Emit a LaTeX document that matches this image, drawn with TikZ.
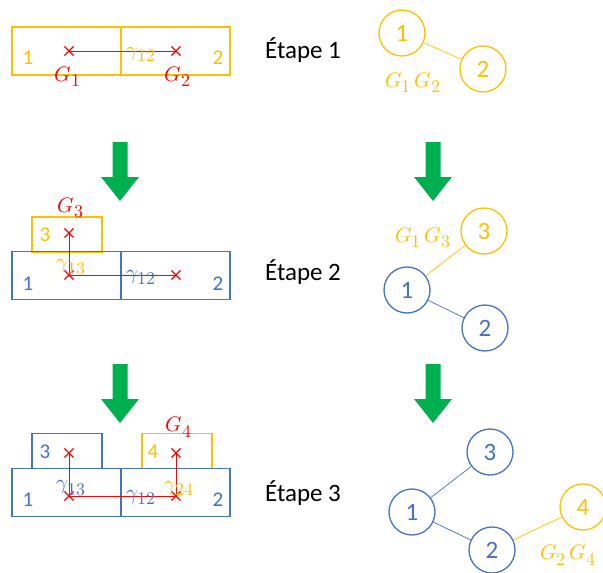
\documentclass[tikz,border=0pt]{standalone}
\usepackage{fontspec}
\usepackage{unicode-math}
\setmainfont{Carlito}
\setmathfont{Latin Modern Math}
\DeclareMathSizes{21}{21}{18}{14}
\usetikzlibrary{shapes.misc,positioning}
\definecolor{gold}{RGB}{255,192,0}
\definecolor{steelblue}{RGB}{68,114,196}
\definecolor{brightred}{RGB}{255,0,0}
\definecolor{arrowgreen}{RGB}{0,176,80}

\begin{document}
\begin{tikzpicture}[
    x=1pt, y=-1pt,
    cell/.style={rectangle, draw, line width=1.3pt, minimum width=109pt, minimum height=48pt, inner sep=0pt},
    subbox/.style={rectangle, draw, line width=1.3pt, minimum width=70pt, minimum height=35pt, inner sep=0pt},
    vertex/.style={circle, draw, line width=1.3pt, minimum size=46pt, inner sep=0pt, font=\fontsize{25}{28}\selectfont},
    num/.style={inner sep=0pt, font=\fontsize{21}{24}\selectfont},
    lab/.style={inner sep=0pt, font=\fontsize{21}{24}\selectfont},
    cg/.style={cross out, draw=brightred, line width=1.1pt, minimum size=8pt, inner sep=0pt},
    link/.style={brightred, line width=0.8pt},
    tie/.style={line width=0.7pt},
    etape/.style={font=\fontsize{25}{30}\selectfont}
]
    \useasboundingbox (0,0) rectangle (603,573);

    % Step 1
    \node[cell, draw=gold] (p1a) at (66.5,51) {};
    \node[cell, draw=gold] (p1b) at (175.5,51) {};
    \node[num, text=gold] (n1a) at (28,58) {1};
    \node[num, text=gold] (n1b) at (218,58) {2};
    \node[cg] (c11) at (69,51) {};
    \node[cg] (c12) at (176,51) {};
    \draw[link] (c11.center) -- (c12.center);
    \node[lab, text=gold] (g112) at (141,54) {$\gamma_{12}$};
    \node[lab, text=brightred] (gc11) at (68,77) {$G_1$};
    \node[lab, text=brightred] (gc12) at (178,77) {$G_2$};
    \node[etape] (e1) at (303,50) {Étape 1};

    \node[vertex, draw=gold, text=gold] (t1) at (402,33) {1};
    \node[vertex, draw=gold, text=gold] (t2) at (483,69) {2};
    \draw[tie, gold] (t1) -- (t2);
    \node[lab, text=gold] (w12) at (413,83) {$G_1\,G_2$};

    % Arrows
    \foreach \x/\y in {120/142, 120/364, 433/142, 433/364}
        \fill[arrowgreen] (\x-7.5,\y) -- (\x+7.5,\y) -- (\x+7.5,\y+35) -- (\x+19,\y+35)
            -- (\x,\y+59) -- (\x-19,\y+35) -- (\x-7.5,\y+35) -- cycle;

    % Step 2
    \node[subbox, draw=gold] (q3) at (67,234.5) {};
    \node[cell, draw=steelblue] (q1) at (66.5,275.5) {};
    \node[cell, draw=steelblue] (q2) at (175.5,275.5) {};
    \node[num, text=gold] (n23) at (45,235) {3};
    \node[num, text=steelblue] (n21) at (28,284) {1};
    \node[num, text=steelblue] (n22) at (218,284) {2};
    \node[cg] (c23) at (69,233) {};
    \node[cg] (c21) at (69,275) {};
    \node[cg] (c22) at (176,275) {};
    \draw[link] (c23.center) -- (c21.center) -- (c22.center);
    \node[lab, text=brightred] (gc23) at (71,208) {$G_3$};
    \node[lab, text=gold] (g213) at (71,267) {$\gamma_{13}$};
    \node[lab, text=steelblue] (g212) at (141,277) {$\gamma_{12}$};
    \node[etape] (e2) at (303,272) {Étape 2};

    \node[vertex, draw=gold, text=gold] (r3) at (484,231) {3};
    \node[vertex, draw=steelblue, text=steelblue] (r1) at (407,290) {1};
    \node[vertex, draw=steelblue, text=steelblue] (r2) at (485,328) {2};
    \draw[tie, gold] (r1) -- (r3);
    \draw[tie, steelblue] (r1) -- (r2);
    \node[lab, text=gold] (w13) at (423,238) {$G_1\,G_3$};

    % Step 3
    \node[subbox, draw=steelblue] (s3) at (67,451) {};
    \node[subbox, draw=gold] (s4) at (177,451) {};
    \node[cell, draw=steelblue] (s1) at (66.5,492.5) {};
    \node[cell, draw=steelblue] (s2) at (175.5,492.5) {};
    \node[num, text=steelblue] (n33) at (45,452) {3};
    \node[num, text=gold] (n34) at (153,452) {4};
    \node[num, text=steelblue] (n31) at (28,500) {1};
    \node[num, text=steelblue] (n32) at (218,500) {2};
    \node[cg] (c33) at (69,453) {};
    \node[cg] (c31) at (69,496) {};
    \node[cg] (c32) at (176,496) {};
    \node[cg] (c34) at (176,453) {};
    \draw[link] (c33.center) -- (c31.center) -- (c32.center) -- (c34.center);
    \node[lab, text=brightred] (gc34) at (179,427) {$G_4$};
    \node[lab, text=steelblue] (g313) at (71,488) {$\gamma_{13}$};
    \node[lab, text=gold] (g324) at (179,488) {$\gamma_{24}$};
    \node[lab, text=steelblue] (g312) at (141,497) {$\gamma_{12}$};
    \node[etape] (e3) at (303,493) {Étape 3};

    \node[vertex, draw=steelblue, text=steelblue] (u3) at (490,452) {3};
    \node[vertex, draw=steelblue, text=steelblue] (u1) at (412,512) {1};
    \node[vertex, draw=steelblue, text=steelblue] (u2) at (492,550) {2};
    \node[vertex, draw=gold, text=gold] (u4) at (583,507) {4};
    \draw[tie, steelblue] (u1) -- (u3);
    \draw[tie, steelblue] (u1) -- (u2);
    \draw[tie, gold] (u2) -- (u4);
    \node[lab, text=gold] (w24) at (568,555) {$G_2\,G_4$};
\end{tikzpicture}
\end{document}
